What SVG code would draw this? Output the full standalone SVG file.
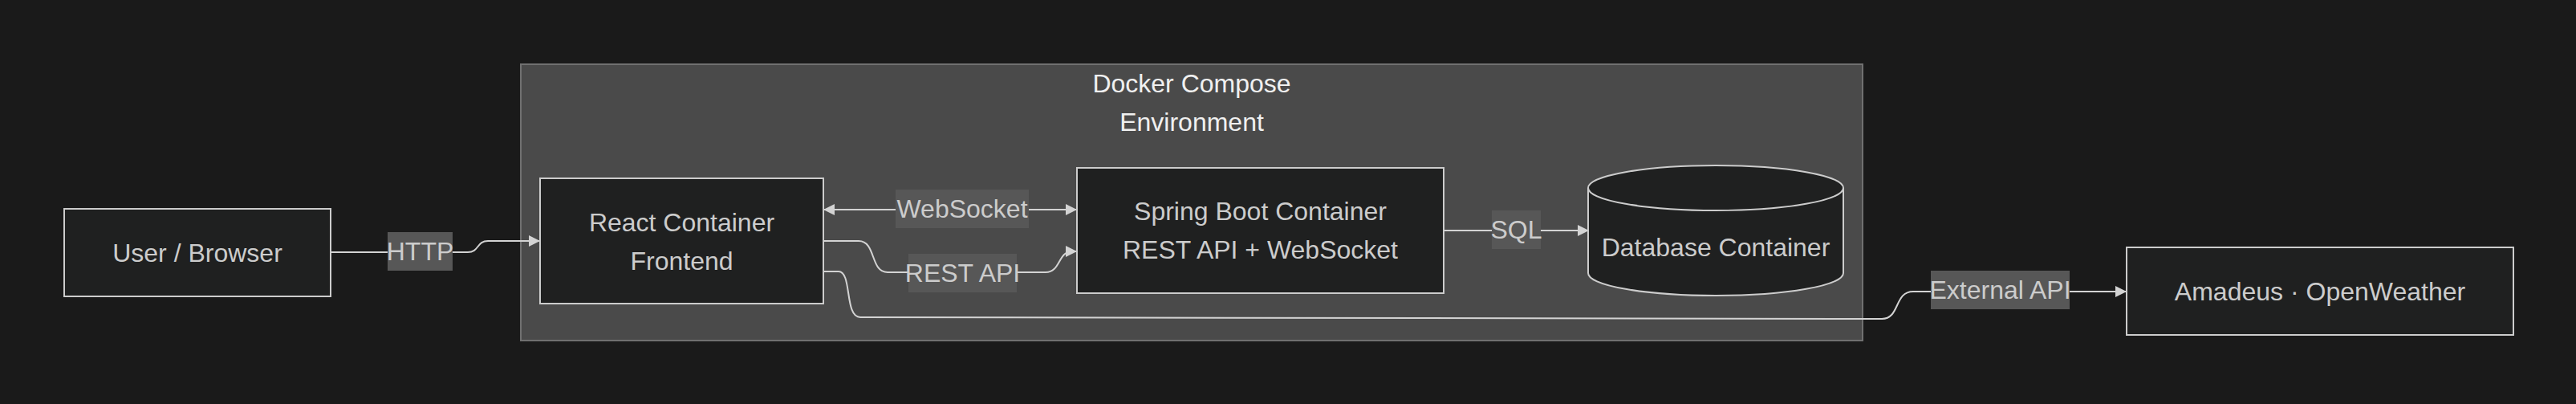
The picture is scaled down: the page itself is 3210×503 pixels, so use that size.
<svg xmlns="http://www.w3.org/2000/svg" width="3210" height="503" viewBox="0 0 3210 503">
<style>
.node{fill:#1f2020;stroke:#cccccc;stroke-width:2}
.cluster{fill:#4a4a4a;stroke:#707070;stroke-width:2}
.t{font-family:"Liberation Sans",Arial,sans-serif;font-size:32px;fill:#cccccc;text-anchor:middle;dominant-baseline:central}
.title{font-family:"Liberation Sans",Arial,sans-serif;font-size:32px;fill:#f0f0f0;text-anchor:middle}
.edge{fill:none;stroke:#d3d3d3;stroke-width:2}
.lbl{fill:#575757}
</style>
<defs>
<marker id="arr" viewBox="0 0 10 10" refX="10" refY="5" markerWidth="15" markerHeight="14" markerUnits="userSpaceOnUse" orient="auto-start-reverse">
<path d="M0,0 L10,5 L0,10 z" fill="#d3d3d3"/>
</marker>
</defs>
<rect width="3210" height="503" fill="#1a1a1a"/>
<g id="cluster-docker">
<rect class="cluster" x="649" y="80" width="1672" height="344"/>
<text class="title" x="1485" y="115">Docker Compose</text>
<text class="title" x="1485" y="163">Environment</text>
</g>
<g id="connectors">
<path class="edge" d="M412,314 L583,314 C597,314 594,300 608,300 L673,300" marker-end="url(#arr)"/>
<path class="edge" d="M1026,261 L1342,261" marker-start="url(#arr)" marker-end="url(#arr)"/>
<path class="edge" d="M1026,300 L1070,300 C1092,300 1084,339 1106,339 L1303,339 C1322,339 1318,313 1336,313 L1342,313" marker-end="url(#arr)"/>
<path class="edge" d="M1026,338 L1045,338 C1062,338 1052,395 1072,395 L2345,397 C2368,397 2360,363 2384,363 L2650,363" marker-end="url(#arr)"/>
<path class="edge" d="M1799,287 L1980,287" marker-end="url(#arr)"/>
<g id="label-http"><rect class="lbl" x="483" y="289" width="81" height="48"/><text class="t" x="523.5" y="313">HTTP</text></g>
<g id="label-websocket"><rect class="lbl" x="1116" y="236" width="166" height="48"/><text class="t" x="1199" y="260">WebSocket</text></g>
<g id="label-rest"><rect class="lbl" x="1132" y="316" width="135" height="48"/><text class="t" x="1199.5" y="340">REST API</text></g>
<g id="label-sql"><rect class="lbl" x="1859" y="262" width="61" height="48"/><text class="t" x="1889.5" y="286">SQL</text></g>
<g id="label-external"><rect class="lbl" x="2406" y="337" width="173" height="48"/><text class="t" x="2492.5" y="361">External API</text></g>
</g>
<g id="node-user">
<rect class="node" x="80" y="260" width="332" height="109"/>
<text class="t" x="246" y="315">User / Browser</text>
</g>
<g id="node-react">
<rect class="node" x="673" y="222" width="353" height="156"/>
<text class="t" x="849.5" y="277">React Container</text>
<text class="t" x="849.5" y="325">Frontend</text>
</g>
<g id="node-spring">
<rect class="node" x="1342" y="209" width="457" height="156"/>
<text class="t" x="1570.5" y="263">Spring Boot Container</text>
<text class="t" x="1570.5" y="311">REST API + WebSocket</text>
</g>
<g id="node-db">
<path class="node" d="M1979,234 a159,28 0 0 0 318,0 a159,28 0 0 0 -318,0 l0,106 a159,28 0 0 0 318,0 l0,-106"/>
<text class="t" x="2138" y="308">Database Container</text>
</g>
<g id="node-ext">
<rect class="node" x="2650" y="308" width="482" height="109"/>
<text class="t" x="2891" y="363">Amadeus · OpenWeather</text>
</g>
</svg>
